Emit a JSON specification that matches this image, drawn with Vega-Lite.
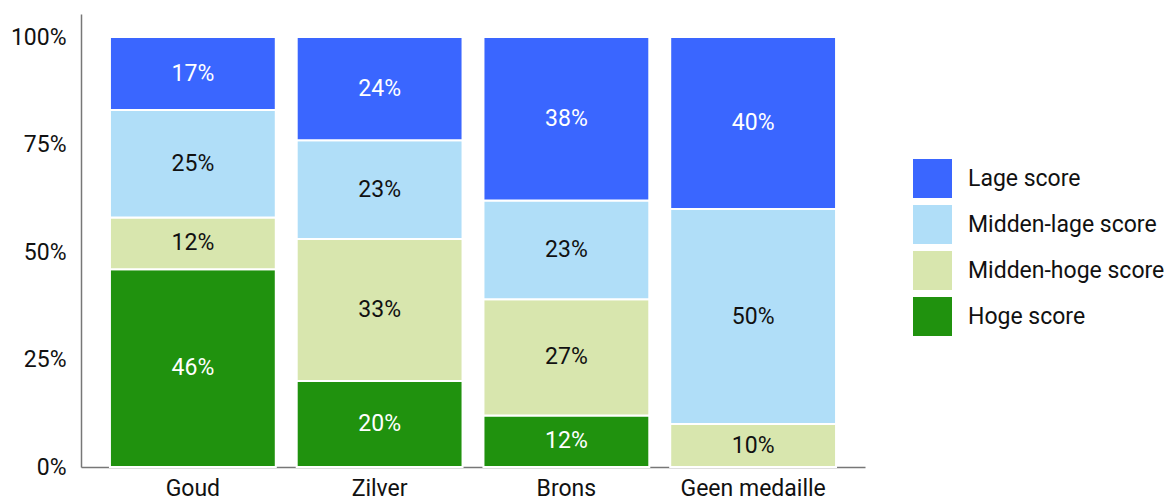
{
  "$schema": "https://vega.github.io/schema/vega-lite/v6.json",
  "width": 784,
  "height": 453,
  "autosize": {"type": "none"},
  "padding": {"left": 81, "top": 14, "right": 310, "bottom": 35},
  "background": "white",
  "config": {
    "view": {"stroke": null},
    "font": "Roboto",
    "axis": {"labelFont": "Roboto", "labelColor": "#111111"},
    "legend": {"labelFont": "Roboto"}
  },
  "data": {
    "values": [
      {"medaille": "Goud", "score": "Hoge score", "volgorde": 1, "pct": 46},
      {"medaille": "Goud", "score": "Midden-hoge score", "volgorde": 2, "pct": 12},
      {"medaille": "Goud", "score": "Midden-lage score", "volgorde": 3, "pct": 25},
      {"medaille": "Goud", "score": "Lage score", "volgorde": 4, "pct": 17},
      {"medaille": "Zilver", "score": "Hoge score", "volgorde": 1, "pct": 20},
      {"medaille": "Zilver", "score": "Midden-hoge score", "volgorde": 2, "pct": 33},
      {"medaille": "Zilver", "score": "Midden-lage score", "volgorde": 3, "pct": 23},
      {"medaille": "Zilver", "score": "Lage score", "volgorde": 4, "pct": 24},
      {"medaille": "Brons", "score": "Hoge score", "volgorde": 1, "pct": 12},
      {"medaille": "Brons", "score": "Midden-hoge score", "volgorde": 2, "pct": 27},
      {"medaille": "Brons", "score": "Midden-lage score", "volgorde": 3, "pct": 23},
      {"medaille": "Brons", "score": "Lage score", "volgorde": 4, "pct": 38},
      {"medaille": "Geen medaille", "score": "Hoge score", "volgorde": 1, "pct": 0},
      {"medaille": "Geen medaille", "score": "Midden-hoge score", "volgorde": 2, "pct": 10},
      {"medaille": "Geen medaille", "score": "Midden-lage score", "volgorde": 3, "pct": 50},
      {"medaille": "Geen medaille", "score": "Lage score", "volgorde": 4, "pct": 40}
    ]
  },
  "transform": [
    {"stack": "pct", "groupby": ["medaille"], "sort": [{"field": "volgorde", "order": "ascending"}], "as": ["y0", "y1"], "offset": "normalize"},
    {"calculate": "(datum.y0 + datum.y1) / 2", "as": "ymid"},
    {"calculate": "datum.pct + '%'", "as": "label"}
  ],
  "encoding": {
    "x": {
      "field": "medaille",
      "type": "nominal",
      "sort": ["Goud", "Zilver", "Brons", "Geen medaille"],
      "scale": {"paddingInner": 0.112, "paddingOuter": 0.155},
      "axis": {"title": null, "labelAngle": 0, "labelFontSize": 23, "labelPadding": 10, "ticks": false, "domainColor": "#777777", "domainWidth": 1.5}
    }
  },
  "layer": [
    {
      "mark": {"type": "bar", "stroke": "white", "strokeWidth": 2},
      "encoding": {
        "y": {
          "field": "y0",
          "type": "quantitative",
          "scale": {"domain": [0, 1.0535], "nice": false},
          "axis": {"title": null, "values": [0, 0.25, 0.5, 0.75, 1], "format": ".0%", "grid": false, "ticks": false, "labelFontSize": 23, "labelPadding": 15, "domainColor": "#777777", "domainWidth": 1.5}
        },
        "y2": {"field": "y1"},
        "color": {
          "field": "score",
          "type": "nominal",
          "scale": {
            "domain": ["Lage score", "Midden-lage score", "Midden-hoge score", "Hoge score"],
            "range": ["#3A66FF", "#B0DEF8", "#D8E6AE", "#20920E"]
          },
          "legend": {
            "title": null,
            "orient": "none",
            "legendX": 832,
            "legendY": 145,
            "symbolType": "square",
            "symbolSize": 1521,
            "symbolStrokeWidth": 0,
            "labelFontSize": 23,
            "labelLimit": 300,
            "labelColor": "#111111",
            "labelOffset": 16,
            "rowPadding": 7
          }
        }
      }
    },
    {
      "transform": [{"filter": "datum.pct > 0"}],
      "mark": {"type": "text", "fontSize": 23, "font": "Roboto", "baseline": "middle"},
      "encoding": {
        "y": {"field": "ymid", "type": "quantitative"},
        "text": {"field": "label", "type": "nominal"},
        "color": {
          "condition": {"test": "datum.score === 'Lage score' || datum.score === 'Hoge score'", "value": "white"},
          "value": "#111111"
        }
      }
    }
  ]
}
